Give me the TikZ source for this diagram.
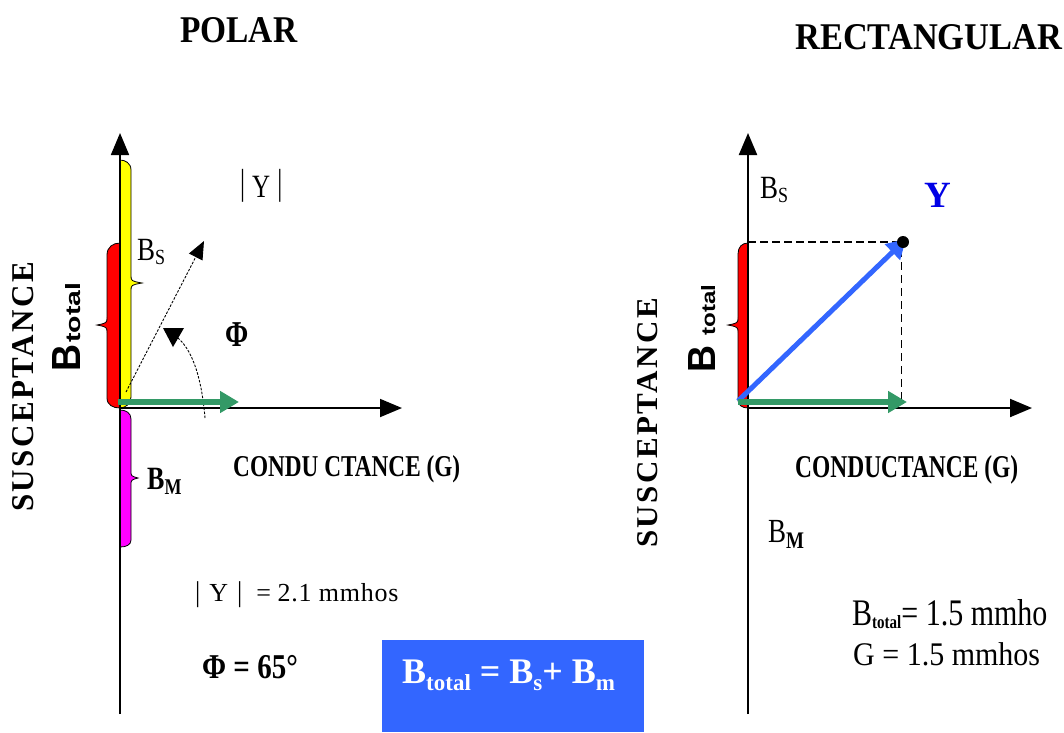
\documentclass[tikz,border=0pt]{standalone}
\usepackage{fontspec}
\setmainfont{Liberation Serif}
\setsansfont{Liberation Sans}
\usepackage{graphicx}
\usetikzlibrary{arrows.meta}
\definecolor{gr}{RGB}{51,153,102}
\definecolor{bl}{RGB}{51,102,255}
\definecolor{ylab}{RGB}{0,0,230}
\definecolor{mag}{RGB}{255,0,255}
\definecolor{yel}{RGB}{255,255,0}
\definecolor{rd}{RGB}{255,0,0}
\newcommand\fit[3]{\resizebox{#1pt}{#2pt}{#3}}
\newcommand\fs[1]{\fontsize{#1}{#1}\selectfont}
\newcommand\tallbar[1]{\scalebox{1}[#1]{|}}
\begin{document}
\begin{tikzpicture}[x=1pt,y=-1pt,
  axis/.style={line width=1.8pt,-{Triangle[length=22pt,width=18pt]}},
  vec/.style={line width=6pt,-{Triangle[length=19pt,width=21pt]}},
  lbl/.style={inner sep=0pt,anchor=base west},
  bar/.style={draw=black,line width=0.8pt},
  dotl/.style={line width=0.9pt,dash pattern=on 2.5pt off 1.5pt},
]
\useasboundingbox (0,0) rectangle (1064,732);
% ---------- coordinates
\coordinate (LO) at (120,408);
\coordinate (LT) at (120,133);
\coordinate (LB) at (120,714);
\coordinate (LR) at (402,408);
\coordinate (RO) at (748,408);
\coordinate (RT) at (748,133);
\coordinate (RB) at (748,714);
\coordinate (RR) at (1032,408);
\coordinate (GL0) at (118,402);
\coordinate (GL1) at (239,402);
\coordinate (GR0) at (738,402);
\coordinate (GR1) at (907,402);
\coordinate (BV0) at (738,401);
\coordinate (BV1) at (906,239);
\coordinate (P) at (903,242);
\coordinate (PA) at (748,242);
\coordinate (PB) at (901,249);
\coordinate (PC) at (901,400);
\coordinate (D0) at (126,392);
\coordinate (D1) at (204,241);
% ---------- left colored bars
\filldraw[fill=yel,bar] (120,160) .. controls (125,160) and (131,163) .. (131,170) -- (131,275)
  .. controls (131,281) .. (142,283) .. controls (131,285) .. (131,291) -- (131,397)
  .. controls (131,404) and (125,408) .. (120,408) -- cycle;
\filldraw[fill=rd,bar] (120,243) .. controls (113,243) and (107,247) .. (107,255) -- (107,317)
  .. controls (107,323) .. (97,325) .. controls (107,327) .. (107,333) -- (107,398)
  .. controls (107,405) and (113,408) .. (120,408) -- cycle;
\filldraw[fill=mag,bar] (120,410) .. controls (126,410) and (131,413) .. (131,419) -- (131,471)
  .. controls (131,476) .. (138,478) .. controls (131,480) .. (131,485) -- (131,540)
  .. controls (131,545) and (126,547) .. (120,547) -- cycle;
% ---------- right colored bar
\filldraw[fill=rd,bar] (748,243) .. controls (742,243) and (738,247) .. (738,254) -- (738,317)
  .. controls (738,323) .. (728,325) .. controls (738,327) .. (738,333) -- (738,400)
  .. controls (738,405) and (742,408) .. (748,408) -- cycle;
% ---------- axes
\draw[axis] (LB) -- (LT);
\draw[axis] (LO) -- (LR);
\draw[axis,line width=2.2pt] (RB) -- (RT);
\draw[axis,line width=2pt] (RO) -- (RR);
% ---------- left vectors
\draw[dotl,-{Triangle[length=18pt,width=15pt]}] (D0) -- (D1);
\draw[dotl] (205,418) .. controls (202,382) and (194,352) .. (178,338);
\fill (163,328) -- (184,328) -- (173,347) -- cycle;
\draw[vec,gr] (GL0) -- (GL1);
% ---------- right vectors
\draw[line width=2.5pt,dash pattern=on 8pt off 4pt] (PA) -- (P);
\draw[line width=1pt,dash pattern=on 8pt off 5pt] (PB) -- (PC);
\draw[vec,bl,line width=5pt] (BV0) -- (BV1);
\fill (P) circle (6);
\draw[vec,gr] (GR0) -- (GR1);
% ---------- titles
\node[lbl] (t1) at (180,42) {\fit{117}{25}{\bfseries POLAR}};
\node[lbl] (t2) at (795,49) {\fit{267}{25}{\bfseries RECTANGULAR}};
% ---------- left labels
\node[lbl,rotate=90] (s1) at (33,512) {\fit{250}{21}{\bfseries\addfontfeatures{LetterSpace=8}SUSCEPTANCE}};
\node[lbl,rotate=90] (bt1) at (80,372) {\fit{27}{28}{\sffamily\bfseries B}\hspace{2pt}\fit{60}{15}{\sffamily\bfseries total}};
\node[lbl] (y1) at (240,197) {\fs{25}\raisebox{3pt}{\tallbar{1.45}}\hspace{7pt}\scalebox{1}[1.3]{Y}\hspace{7pt}\raisebox{3pt}{\tallbar{1.45}}};
\node[lbl] (bs1) at (137,260) {\scalebox{1}[1.2]{\fs{27}B\raisebox{-4pt}{\fs{18}S}}};
\node[lbl] (phi1) at (225,346) {\scalebox{1}[1.3]{\fs{28}\bfseries Φ}};
\node[lbl] (bm1) at (147,489) {\scalebox{1}[1.25]{\fs{26}\bfseries B\raisebox{-4pt}{\fs{18}M}}};
\node[lbl] (c1) at (233,476) {\fit{227}{21}{\bfseries CONDU CTANCE (G)}};
\node[lbl] (ym) at (195,601) {\fs{26}\tallbar{1.1}\hspace{9pt}Y\hspace{9pt}\tallbar{1.1}\hspace{14pt}= {\addfontfeatures{LetterSpace=3}2.1 mmhos}};
\node[lbl] (pv) at (202,678) {\scalebox{1}[1.2]{\fs{29}\bfseries Φ = 65°}};
% ---------- blue box
\node[fill=bl,minimum width=262pt,minimum height=92pt,anchor=north west,inner sep=0pt] (box) at (382,640) {};
\node[lbl,text=white] (eq) at (402,683) {\fs{36}\bfseries B\raisebox{-7pt}{\fs{23}total} = B\raisebox{-7pt}{\fs{23}s}+ B\raisebox{-7pt}{\fs{23}m}};
% ---------- right labels
\node[lbl,rotate=90] (s2) at (657,548) {\fit{250}{20}{\bfseries\addfontfeatures{LetterSpace=8}SUSCEPTANCE}};
\node[lbl,rotate=90] (bt2) at (715,373) {\fit{27}{27}{\sffamily\bfseries B}\hspace{10pt}\fit{51}{14}{\sffamily\bfseries total}};
\node[lbl] (bs2) at (760,198) {\scalebox{1}[1.2]{\fs{27}B\raisebox{-4pt}{\fs{18}S}}};
\node[text=ylab,inner sep=0pt] (Y) at (938,195) {\fs{37}\bfseries Y};
\node[lbl] (c2) at (795,477) {\fit{223}{22}{\bfseries CONDUCTANCE (G)}};
\node[lbl] (bm2) at (768,542) {\scalebox{1}[1.25]{\fs{27}B\raisebox{-5pt}{\fs{19}\bfseries M}}};
\node[lbl] (v1) at (852,625) {\scalebox{1}[1.25]{\fs{30}B\raisebox{-3pt}{\fs{15}\bfseries total}= 1.5 mmho}};
\node[lbl] (v2) at (853,665) {\scalebox{1}[1.1]{\fs{30}G = 1.5 mmhos}};
\end{tikzpicture}
\end{document}
